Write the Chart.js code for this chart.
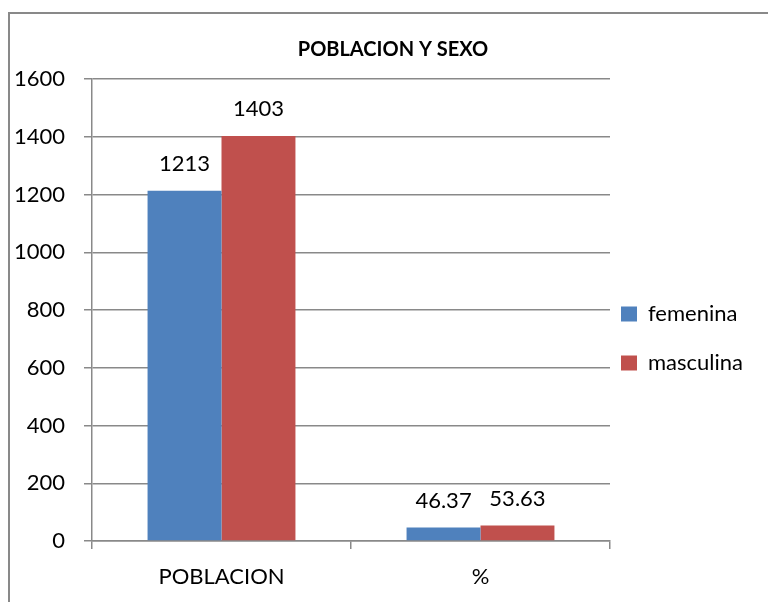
<!DOCTYPE html>
<html>
<head>
<meta charset="utf-8">
<script src="https://cdn.jsdelivr.net/npm/chart.js@4/dist/chart.umd.min.js"></script>
<style>
    html, body { margin: 0; padding: 0; background: #fff; overflow: hidden; }
    #wrap { position: relative; width: 768px; height: 602px; }
    #frame {
        position: absolute; left: 8px; top: 12px; width: 800px; height: 700px;
        border-left: 2px solid #898989; border-top: 2px solid #898989;
        pointer-events: none;
    }
    canvas { position: absolute; left: 0; top: 0; }
</style>
</head>
<body>
<div id="wrap">
    <canvas id="chart" width="768" height="602"></canvas>
    <div id="frame"></div>
</div>
<script>
const categories = ['POBLACION', '%'];
const femenina = [1213, 46.37];
const masculina = [1403, 53.63];
const yTicks = [0, 200, 400, 600, 800, 1000, 1200, 1400, 1600];

const FONT = 'Lato, "Open Sans", sans-serif';
const GRID = '#898989';

// value labels above each bar
const barLabels = {
    id: 'barLabels',
    afterDatasetsDraw(chart) {
        const ctx = chart.ctx;
        ctx.save();
        ctx.font = '22px ' + FONT;
        ctx.fillStyle = '#000';
        ctx.textAlign = 'center';
        ctx.textBaseline = 'alphabetic';
        chart.data.datasets.forEach((ds, i) => {
            chart.getDatasetMeta(i).data.forEach((bar, j) => {
                ctx.fillText(String(ds.data[j]), bar.x, bar.y - 20);
            });
        });
        ctx.restore();
    },
};

// legend beside the plot, title centred over the whole frame
const placeBoxes = {
    id: 'placeBoxes',
    afterLayout(chart) {
        const lg = chart.legend;
        if (lg) {
            const w = lg.width, h = lg.height;
            lg.left = 594; lg.right = 594 + w;
            lg.top = 276; lg.bottom = 276 + h;
        }
        const t = chart.titleBlock;
        if (t) {
            t.left += 88; t.right += 88;
        }
    },
};

new Chart(document.getElementById('chart').getContext('2d'), {
    type: 'bar',
    data: {
        labels: categories,
        datasets: [
            { label: 'femenina', data: femenina, backgroundColor: '#4F81BD' },
            { label: 'masculina', data: masculina, backgroundColor: '#C0504D' },
        ],
    },
    options: {
        responsive: false,
        animation: false,
        devicePixelRatio: 1,
        layout: { padding: { left: 0, right: 158, top: 0, bottom: 0 } },
        datasets: { bar: { categoryPercentage: 0.571, barPercentage: 1 } },
        plugins: {
            title: {
                display: true,
                text: 'POBLACION Y SEXO',
                color: '#000',
                font: { family: FONT, size: 20, weight: 'bold' },
                padding: { top: 38, bottom: 17 },
            },
            legend: {
                position: 'chartArea',
                align: 'start',
                labels: {
                    color: '#000',
                    font: { family: FONT, size: 22 },
                    boxWidth: 16,
                    boxHeight: 15,
                    padding: 27,
                },
            },
            tooltip: { enabled: false },
        },
        scales: {
            x: {
                grid: { drawOnChartArea: false, drawTicks: true, tickLength: 8, color: GRID, lineWidth: 1.5 },
                border: { display: true, color: GRID, width: 1.5 },
                ticks: { color: '#000', font: { family: FONT, size: 22 }, padding: 15, maxRotation: 0 },
                afterFit(scale) { scale.height = 61; },
            },
            y: {
                min: 0,
                max: 1600,
                afterBuildTicks(scale) { scale.ticks = yTicks.map(v => ({ value: v })); },
                grid: { color: GRID, lineWidth: 1.5, tickLength: 8 },
                border: { display: true, color: GRID, width: 1.5 },
                ticks: {
                    color: '#000',
                    font: { family: FONT, size: 22 },
                    padding: 19,
                    callback: (v) => String(v),
                },
                afterFit(scale) { scale.width = 92; },
            },
        },
    },
    plugins: [barLabels, placeBoxes],
});
</script>
</body>
</html>
